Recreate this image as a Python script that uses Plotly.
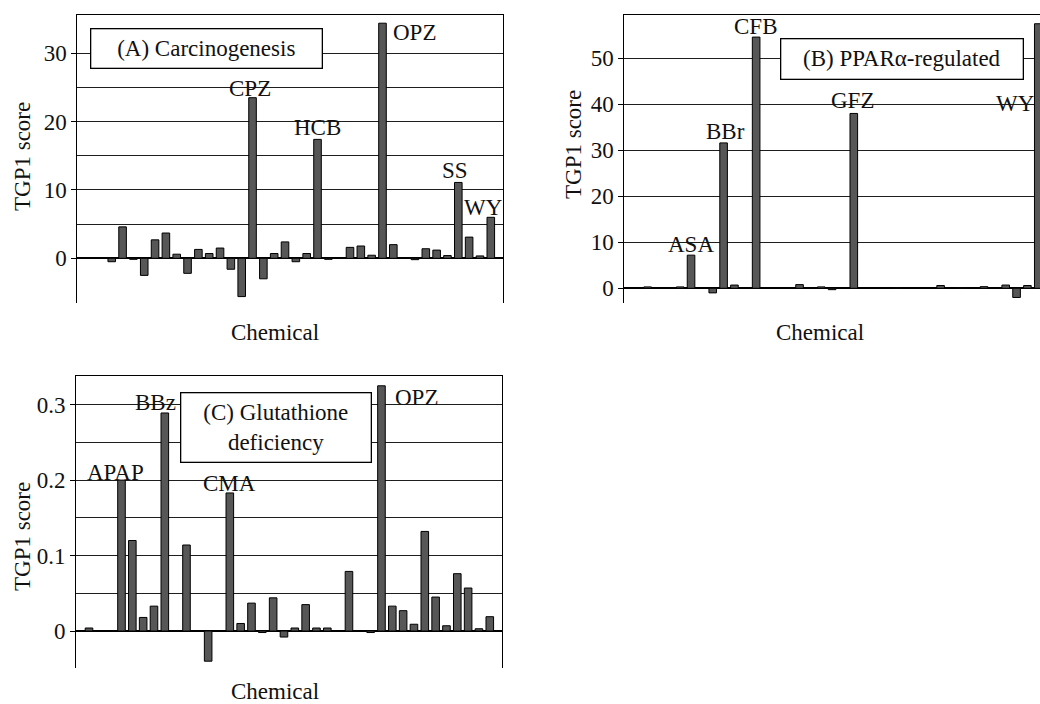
import plotly.graph_objects as go

# chemical slots (shared ordering across the three panels)
slots = list(range(-3, 36))

# TGP1 scores per slot (None = no bar)
score_A = [None, None, None, -0.5, 4.6, -0.15, -2.5, 2.7, 3.7, 0.6, -2.2, 1.3, 0.7, 1.5,
           -1.6, -5.6, 23.5, -3.0, 0.7, 2.4, -0.5, 0.7, 17.4, -0.15, None, 1.6, 1.8, 0.45,
           34.4, 2.0, None, -0.2, 1.4, 1.2, 0.4, 11.1, 3.1, 0.35, 6.0]
score_B = [None, None, 0.3, None, None, 0.3, 7.2, None, -1.0, 31.6, 0.7, None, 54.6, None,
           None, None, 0.8, None, 0.3, -0.3, None, 38.0, None, None, None, 0.1, None, None,
           None, 0.6, None, 0.1, None, 0.35, None, 0.7, -2.0, 0.6, 57.5]
score_C = [None, 0.004, None, None, 0.200, 0.120, 0.018, 0.033, 0.289, None, 0.114, None,
           -0.040, None, 0.183, 0.010, 0.037, -0.002, 0.044, -0.008, 0.004, 0.035, 0.004,
           0.004, None, 0.079, None, -0.002, 0.325, 0.033, 0.027, 0.009, 0.132, 0.045,
           0.007, 0.076, 0.057, 0.003, 0.019]

# labels: (text, slot position, score position)
labels_A = [("CPZ", 12.77, 24.9), ("HCB", 18.96, 19.1), ("OPZ", 28.0, 33.0),
            ("SS", 31.7, 12.8), ("WY", 34.35, 7.5)]
labels_B = [("ASA", 3.0, 9.5), ("BBr", 6.2, 34.0), ("CFB", 8.9, 56.9),
            ("GFZ", 17.9, 40.8), ("WY", 32.9, 40.2)]
labels_C = [("APAP", 0.44, 0.210), ("BBz", 4.1, 0.303), ("CMA", 11.0, 0.195),
            ("OPZ", 28.2, 0.310)]

titles = ["(A) Carcinogenesis", "(B) PPARα-regulated", "(C) Glutathione<br>deficiency"]

FONT = "Liberation Serif"
W, H = 1040, 704
BAR_FILL = "#575757"
TXT = "#111111"

fig = go.Figure()
for vals, xa, ya in [(score_A, "x", "y"), (score_B, "x2", "y2"), (score_C, "x3", "y3")]:
    fig.add_trace(go.Bar(x=slots, y=vals, xaxis=xa, yaxis=ya, width=0.7,
                         marker=dict(color=BAR_FILL, line=dict(color="black", width=1)),
                         showlegend=False, hoverinfo="skip"))


def px_x(p):
    return p / W


def px_y(p):
    return 1 - p / H


def xax(domain, rng, anchor, topline=True):
    return dict(domain=domain, range=rng, anchor=anchor, side="top",
                showline=topline, linecolor="black", linewidth=1,
                showticklabels=False, ticks="", showgrid=False, zeroline=False,
                fixedrange=True)


def yax(domain, rng, anchor, tickvals, ticktext, minorvals, mirror=True):
    return dict(domain=domain, range=rng, anchor=anchor,
                tickmode="array", tickvals=tickvals, ticktext=ticktext,
                ticks="outside", ticklen=5, tickcolor="black", tickwidth=1,
                showline=True, linecolor="black", linewidth=1, mirror=mirror,
                showgrid=True, gridcolor="#1e1e1e", gridwidth=1,
                minor=dict(tickmode="array", tickvals=minorvals, showgrid=True,
                           gridcolor="#1e1e1e", gridwidth=1, ticks=""),
                zeroline=True, zerolinecolor="black", zerolinewidth=1.6,
                tickfont=dict(family=FONT, size=23, color=TXT),
                fixedrange=True)


dom_y_top = [px_y(303), px_y(15)]
fig.update_layout(
    width=W, height=H, margin=dict(l=0, r=0, t=0, b=0),
    paper_bgcolor="white", plot_bgcolor="white",
    bargap=0.3,
    font=dict(family=FONT, size=23, color=TXT),
    xaxis=xax([px_x(77.3), px_x(502.7)], [-3.18, 36.1], "y"),
    yaxis=yax(dom_y_top, [-6.54, 35.6], "x", [0, 10, 20, 30], ["0", "10", "20", "30"],
              [5, 15, 25]),
    xaxis2=xax([px_x(624.3), 1.0], [-3.15, 35.16], "y2"),
    yaxis2=yax(dom_y_top, [-3.2, 59.4], "x2", [0, 10, 20, 30, 40, 50],
               ["0", "10", "20", "30", "40", "50"], [], mirror=False),
    xaxis3=xax([px_x(76), px_x(501.7)], [-3.2, 36.1], "y3"),
    yaxis3=yax([px_y(668), px_y(376)], [-0.049, 0.338], "x3", [0, 0.1, 0.2, 0.3],
               ["0", "0.1", "0.2", "0.3"], [0.05, 0.15, 0.25]),
)

ann = []
for labs, xr, yr in [(labels_A, "x", "y"), (labels_B, "x2", "y2"), (labels_C, "x3", "y3")]:
    for t, xv, yv in labs:
        ann.append(dict(text=t, x=xv, y=yv, xref=xr, yref=yr, showarrow=False,
                        xanchor="center", yanchor="middle",
                        font=dict(family=FONT, size=23, color=TXT)))

# panel title boxes
boxes = [(titles[0], 206.5, 48.3, 230, 38), (titles[1], 902, 58.7, 241, 39),
         (titles[2], 276.2, 427.5, 189, 68)]
for t, cx, cy, bw, bh in boxes:
    ann.append(dict(text=t, x=px_x(cx), y=px_y(cy), xref="paper", yref="paper",
                    showarrow=False, xanchor="center", yanchor="middle",
                    width=bw, height=bh, borderpad=0, bordercolor="black",
                    borderwidth=1.3, bgcolor="white", align="center",
                    font=dict(family=FONT, size=23, color=TXT)))

# axis titles
for cx, cy in [(22, 157), (574, 145), (22, 537)]:
    ann.append(dict(text="TGP1 score", x=px_x(cx), y=px_y(cy), xref="paper", yref="paper",
                    showarrow=False, textangle=-90, xanchor="center", yanchor="middle",
                    font=dict(family=FONT, size=23, color=TXT)))
for cx, cy in [(275, 332), (820, 332), (275, 691)]:
    ann.append(dict(text="Chemical", x=px_x(cx), y=px_y(cy), xref="paper", yref="paper",
                    showarrow=False, xanchor="center", yanchor="middle",
                    font=dict(family=FONT, size=23, color=TXT)))

fig.update_layout(annotations=ann)
fig.write_html(
    "out.html",
    config={"displayModeBar": False, "staticPlot": True},
    post_script="document.body.style.margin='0px';"
                "document.documentElement.style.overflow='hidden';",
)
